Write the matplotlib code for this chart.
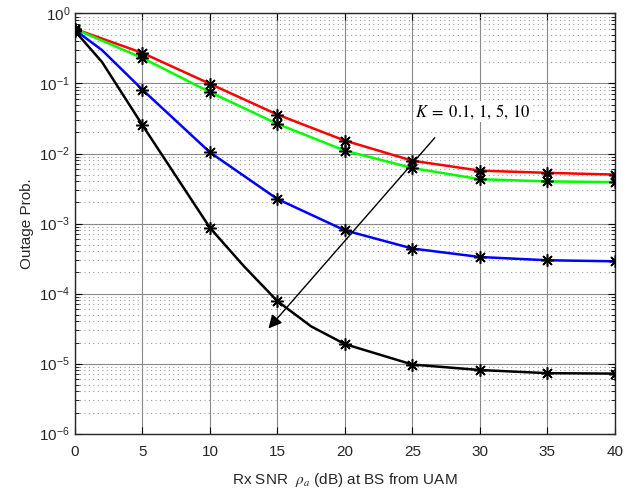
import matplotlib
matplotlib.use('Agg')
import matplotlib.pyplot as plt
from matplotlib.ticker import LogLocator, NullFormatter

plt.rcParams['font.family'] = ['Liberation Sans', 'DejaVu Sans']
plt.rcParams['mathtext.fontset'] = 'stix'

# datos
snr_mk = [0, 5, 10, 15, 20, 25, 30, 35, 40]

# K = 0.1 (rojo)
x_red = [0, 5, 10, 15, 20, 25, 30, 35, 40]
y_red = [0.60, 0.273, 0.099, 0.036, 0.0153, 0.0079, 0.0057, 0.0053, 0.0050]
# K = 1 (verde)
x_green = [0, 5, 10, 15, 20, 25, 30, 35, 40]
y_green = [0.60, 0.231, 0.0753, 0.0265, 0.011, 0.0062, 0.0043, 0.0040, 0.0039]
# K = 5 (azul)
x_blue = [0, 2, 5, 10, 15, 20, 25, 30, 35, 40]
y_blue = [0.58, 0.30, 0.0815, 0.0104, 0.00224, 0.0008, 0.00044, 0.000333, 0.000299, 0.000289]
# K = 10 (negro)
x_black = [0, 2, 5, 10, 12.5, 15, 17.5, 20, 25, 30, 35, 40]
y_black = [0.56, 0.203, 0.0254, 0.00087, 0.000248, 7.8e-5, 3.4e-5, 1.9e-5, 9.7e-6, 8.1e-6, 7.3e-6, 7.2e-6]

# marcadores de simulacion (*)
sim_red = [0.60, 0.273, 0.099, 0.036, 0.0153, 0.0079, 0.0057, 0.0053, 0.0050]
sim_green = [0.60, 0.231, 0.0753, 0.0265, 0.011, 0.0062, 0.0043, 0.0040, 0.0039]
sim_blue = [0.58, 0.0815, 0.0104, 0.00224, 0.0008, 0.00044, 0.000333, 0.000299, 0.000289]
sim_black = [0.56, 0.0254, 0.00087, 7.8e-5, 1.9e-5, 9.7e-6, 8.1e-6, 7.3e-6, 7.2e-6]

# circulos (o)
x_circ = [10, 15, 20, 25, 30, 35, 40]
y_circ = [0.087, 0.0303, 0.0134, 0.0071, 0.0052, 0.0047, 0.0044]

y_ticks = [1e-6, 1e-5, 1e-4, 1e-3, 1e-2, 1e-1, 1e0]
y_ticklabels = [r'$\mathregular{10^{-6}}$', r'$\mathregular{10^{-5}}$', r'$\mathregular{10^{-4}}$',
                r'$\mathregular{10^{-3}}$', r'$\mathregular{10^{-2}}$', r'$\mathregular{10^{-1}}$',
                r'$\mathregular{10^{0}}$']
x_ticks = [0, 5, 10, 15, 20, 25, 30, 35, 40]

fig = plt.figure(figsize=(6.41, 4.99), dpi=100)
ax = fig.add_axes([0.117, 0.131, 0.842, 0.842])

ax.plot(x_red, y_red, color='#ff0000', lw=1.8, zorder=3)
ax.plot(x_green, y_green, color='#00ff00', lw=1.8, zorder=3)
ax.plot(x_blue, y_blue, color='#0000ff', lw=1.8, zorder=3)
ax.plot(x_black, y_black, color='k', lw=1.8, zorder=3)

star = (8, 2, 0)
for s in [sim_red, sim_green, sim_blue, sim_black]:
    ax.plot(snr_mk, s, ls='none', marker=star, ms=9, mew=1.1, color='k', zorder=4)
ax.plot(x_circ, y_circ, ls='none', marker='o', ms=5, mfc='none', mec='k', mew=0.8, zorder=4)

ax.set_yscale('log')
ax.set_xlim(0, 40)
ax.set_ylim(1e-6, 1)
ax.set_xticks(x_ticks)
ax.set_yticks(y_ticks)
ax.set_yticklabels(y_ticklabels)
ax.yaxis.set_minor_locator(LogLocator(base=10, subs=range(2, 10), numticks=20))
ax.yaxis.set_minor_formatter(NullFormatter())

ax.grid(True, which='major', color='#888888', lw=0.8, ls='-')
ax.grid(True, which='minor', axis='y', color='#999999', lw=0.8, ls=(0, (1, 3)))
ax.set_axisbelow(True)

ax.tick_params(which='both', direction='in', top=True, right=True, labelsize=11,
               labelcolor='#262626')
ax.tick_params(which='major', length=5, width=0.8)
ax.tick_params(which='minor', length=3, width=0.6)
ax.tick_params(axis='x', pad=8)
for sp in ax.spines.values():
    sp.set_color('#262626')
    sp.set_linewidth(1.0)

ax.set_xlabel(r'Rx SNR  $\rho_a$ (dB) at BS from UAM', fontsize=11, labelpad=9, color='#262626')
ax.set_ylabel('Outage Prob.', fontsize=11, labelpad=4, color='#262626')

ax.annotate('', xy=(14.2, 2.96e-5), xytext=(26.8, 0.018),
            arrowprops=dict(arrowstyle='-|>', color='k', lw=1.0, mutation_scale=20), zorder=5)
ax.text(25.2, 0.040, r'$K\;=\;0.1,\,1,\,5,\,10$', fontsize=12, va='center', ha='left',
        bbox=dict(facecolor='white', edgecolor='none', pad=1), zorder=5)

fig.savefig('out.png', dpi=100)
